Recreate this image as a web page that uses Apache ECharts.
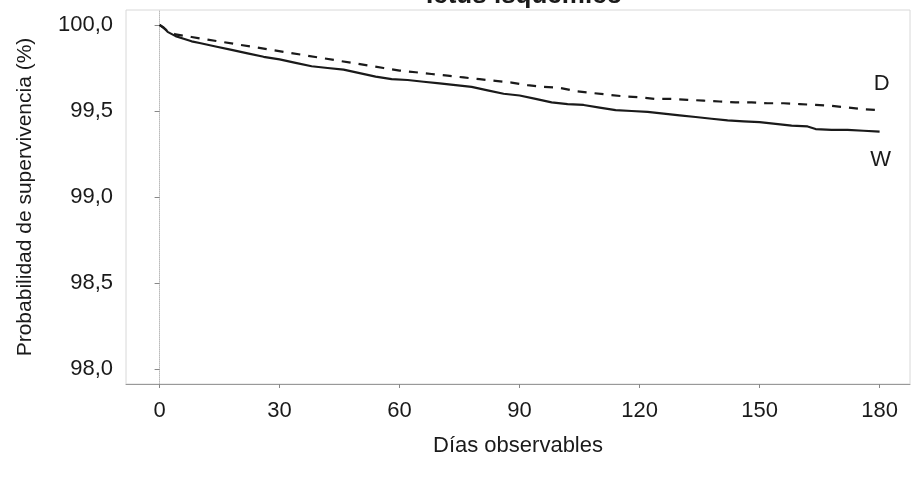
<!DOCTYPE html>
<html>
<head>
<meta charset="utf-8">
<script src="https://cdn.jsdelivr.net/npm/echarts@6/dist/echarts.min.js"></script>
<style>
  html, body { margin: 0; padding: 0; background: #fff; }
  #app { width: 914px; height: 479px; }
</style>
</head>
<body>
<div id="app"></div>
<script>
const xTicks = [0, 30, 60, 90, 120, 150, 180];
const yTicks = [98, 98.5, 99, 99.5, 100];

// W (solid) - [dia, supervivencia %]
const seriesW = [
  [0, 100.0], [1, 99.985], [2, 99.96], [4, 99.935], [6, 99.92], [8, 99.905],
  [10, 99.895], [14, 99.875], [18, 99.855], [22, 99.835], [26, 99.815], [30, 99.8],
  [34, 99.78], [38, 99.76], [42, 99.75], [46, 99.74], [50, 99.72], [54, 99.7],
  [58, 99.685], [62, 99.68], [66, 99.67], [70, 99.66], [74, 99.65], [78, 99.64],
  [82, 99.62], [86, 99.6], [90, 99.59], [94, 99.57], [98, 99.55], [102, 99.54],
  [106, 99.535], [110, 99.52], [114, 99.505], [118, 99.5], [122, 99.495], [126, 99.485],
  [130, 99.475], [134, 99.465], [138, 99.455], [142, 99.445], [146, 99.44], [150, 99.435],
  [154, 99.425], [158, 99.415], [162, 99.41], [164, 99.395], [168, 99.39], [172, 99.39],
  [176, 99.385], [180, 99.38]
];

// D (dashed)
const seriesD = [
  [0, 100.0], [2, 99.965], [4, 99.945], [8, 99.93], [12, 99.915], [16, 99.9],
  [20, 99.885], [24, 99.87], [28, 99.855], [32, 99.84], [36, 99.825], [40, 99.81],
  [44, 99.795], [48, 99.78], [52, 99.765], [56, 99.75], [60, 99.735], [64, 99.725],
  [68, 99.715], [72, 99.705], [76, 99.695], [80, 99.685], [84, 99.675], [88, 99.665],
  [92, 99.65], [96, 99.64], [100, 99.635], [104, 99.615], [108, 99.605], [112, 99.595],
  [116, 99.585], [120, 99.58], [124, 99.57], [128, 99.57], [132, 99.565], [136, 99.56],
  [140, 99.555], [144, 99.55], [148, 99.55], [152, 99.545], [156, 99.545], [160, 99.54],
  [164, 99.535], [168, 99.53], [172, 99.52], [176, 99.51], [180, 99.505]
];

const font = '"Liberation Sans", Arial, sans-serif';
const ink = '#1a1a1a';

const chart = echarts.init(document.getElementById('app'));
chart.setOption({
  animation: false,
  title: {
    text: 'Ictus isquémico',
    left: 421,
    top: -22,
    textStyle: { fontFamily: font, fontSize: 26, fontWeight: 'bold', color: ink, lineHeight: 26 }
  },
  grid: {
    left: 126, right: 4, top: 10, bottom: 95,
    show: true, borderColor: '#d8d8d8', borderWidth: 1
  },
  xAxis: {
    type: 'value',
    min: -8.4,
    max: 187.6,
    name: 'Días observables',
    nameLocation: 'middle',
    nameGap: 51,
    nameTextStyle: { fontFamily: font, fontSize: 22, color: ink },
    axisLine: { show: true, lineStyle: { color: '#999', width: 1 } },
    axisTick: { show: true, customValues: xTicks, length: 4, lineStyle: { color: '#888' } },
    axisLabel: {
      customValues: xTicks, margin: 16,
      fontFamily: font, fontSize: 22, color: ink
    },
    splitLine: { show: false }
  },
  yAxis: {
    type: 'value',
    min: 97.913,
    max: 100.087,
    name: 'Probabilidad de supervivencia (%)',
    nameLocation: 'middle',
    nameGap: 90,
    nameTextStyle: { fontFamily: font, fontSize: 21, color: ink },
    axisLine: { show: true, lineStyle: { color: '#bbb', width: 1, type: 'dotted' } },
    axisTick: { show: true, customValues: yTicks, length: 5, lineStyle: { color: '#888' } },
    axisLabel: {
      customValues: yTicks, margin: 13,
      fontFamily: font, fontSize: 22, color: ink,
      formatter: v => v.toFixed(1).replace('.', ',')
    },
    splitLine: { show: false }
  },
  series: [
    {
      name: 'W',
      type: 'line',
      data: seriesW,
      showSymbol: false,
      lineStyle: { color: ink, width: 2.2 },
      endLabel: {
        show: true, formatter: 'W', align: 'center', distance: 0, offset: [1, 28],
        fontFamily: font, fontSize: 22, color: ink
      }
    },
    {
      name: 'D',
      type: 'line',
      data: seriesD,
      showSymbol: false,
      lineStyle: { color: ink, width: 2.2, type: [9, 8] },
      endLabel: {
        show: true, formatter: 'D', align: 'center', distance: 0, offset: [2, -26],
        fontFamily: font, fontSize: 22, color: ink
      }
    }
  ]
});
</script>
</body>
</html>
